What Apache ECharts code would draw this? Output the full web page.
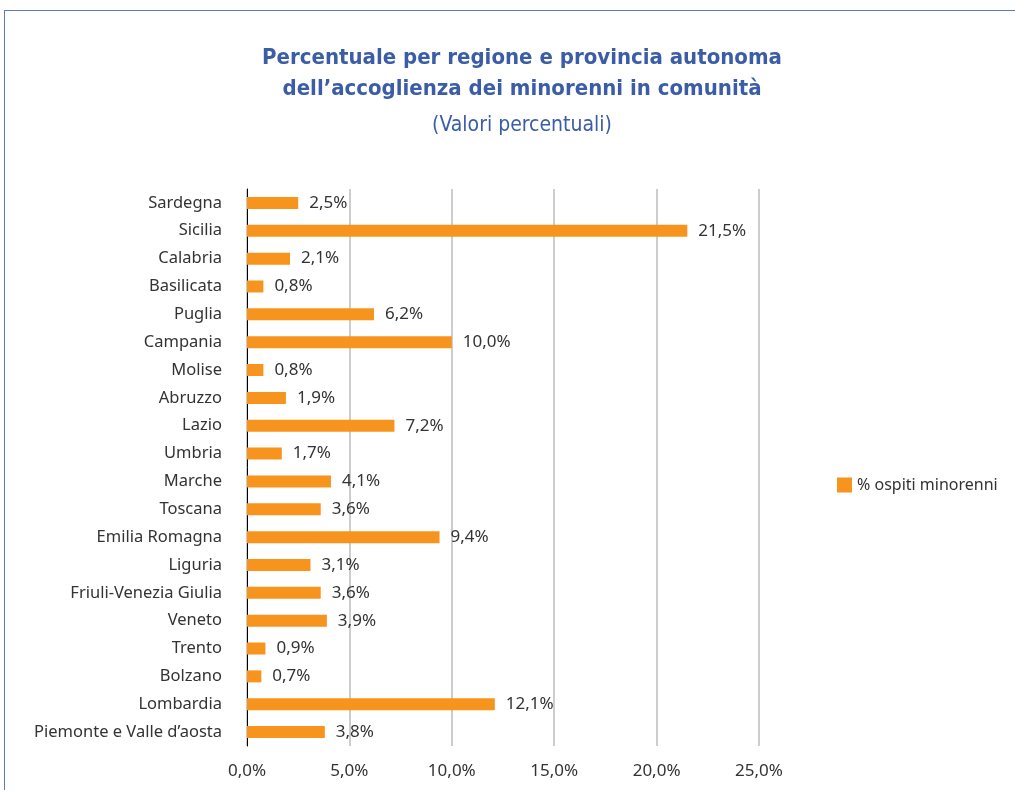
<!DOCTYPE html>
<html>
<head>
<meta charset="utf-8">
<script src="https://cdn.jsdelivr.net/npm/echarts@6/dist/echarts.min.js"></script>
<style>
  html, body { margin: 0; padding: 0; background: #fff; }
  .frame {
    position: absolute;
    left: 4px;
    top: 10px;
    width: 1100px;
    height: 900px;
    border-top: 1.5px solid #5a7cbf;
    border-left: 1.5px solid #5a7cbf;
  }
  #chart { position: absolute; left: 0; top: 0; width: 1015px; height: 790px; }
</style>
</head>
<body>
<div class="frame"></div>
<div id="chart"></div>
<script>
// regioni dall'alto verso il basso
const regioni = ['Sardegna', 'Sicilia', 'Calabria', 'Basilicata', 'Puglia', 'Campania', 'Molise', 'Abruzzo', 'Lazio', 'Umbria',
  'Marche', 'Toscana', 'Emilia Romagna', 'Liguria', 'Friuli-Venezia Giulia', 'Veneto', 'Trento', 'Bolzano', 'Lombardia', 'Piemonte e Valle d\u2019aosta']
// % ospiti minorenni
const ospitiMinorenni = [2.5, 21.5, 2.1, 0.8, 6.2, 10.0, 0.8, 1.9, 7.2, 1.7, 4.1, 3.6, 9.4, 3.1, 3.6, 3.9, 0.9, 0.7, 12.1, 3.8]

const fmt = function (v) {
  return Number(v).toFixed(1).replace('.', ',') + '%'
}

let myChart = echarts.init(document.getElementById('chart'))
myChart.setOption({
  animation: false,
  textStyle: { fontFamily: 'Noto Sans' },
  title: [
    {
      text: 'Percentuale per regione e provincia autonoma\ndell\u2019accoglienza dei minorenni in comunit\u00e0',
      left: 517,
      top: 38,
      textAlign: 'center',
      textStyle: {
        color: '#3b5ca6',
        fontFamily: 'DejaVu Sans Condensed',
        fontWeight: 'bold',
        fontSize: 22,
        lineHeight: 31
      }
    },
    {
      text: '(Valori percentuali)',
      left: 517,
      top: 110,
      textAlign: 'center',
      textStyle: {
        color: '#3b5ca6',
        fontFamily: 'DejaVu Sans Condensed',
        fontWeight: 'normal',
        fontSize: 21
      }
    }
  ],
  legend: {
    data: ['% ospiti minorenni'],
    left: 832,
    top: 472,
    itemWidth: 15,
    itemHeight: 15,
    itemGap: 10,
    icon: 'rect',
    textStyle: { color: '#333', fontSize: 16, fontFamily: 'Noto Sans' }
  },
  grid: {
    left: 247,
    right: 256,
    top: 189,
    bottom: 44,
    containLabel: false
  },
  xAxis: {
    type: 'value',
    min: 0,
    max: 25,
    interval: 5,
    axisLine: { show: false },
    axisTick: { show: false },
    splitLine: { lineStyle: { color: '#bdbdbd', width: 1.5 } },
    axisLabel: {
      margin: 17,
      color: '#333',
      fontSize: 17,
      formatter: fmt
    }
  },
  yAxis: {
    type: 'category',
    inverse: true,
    data: regioni,
    axisLine: { show: true, lineStyle: { color: '#000', width: 1 } },
    axisTick: { show: false },
    axisLabel: { margin: 25, color: '#333', fontSize: 16.5 }
  },
  series: [
    {
      name: '% ospiti minorenni',
      type: 'bar',
      data: ospitiMinorenni,
      barWidth: 12,
      itemStyle: { color: '#f7941e' },
      label: {
        show: true,
        position: 'right',
        distance: 11,
        color: '#333',
        fontSize: 17,
        formatter: function (p) { return fmt(p.value) }
      }
    }
  ]
})
</script>
</body>
</html>
